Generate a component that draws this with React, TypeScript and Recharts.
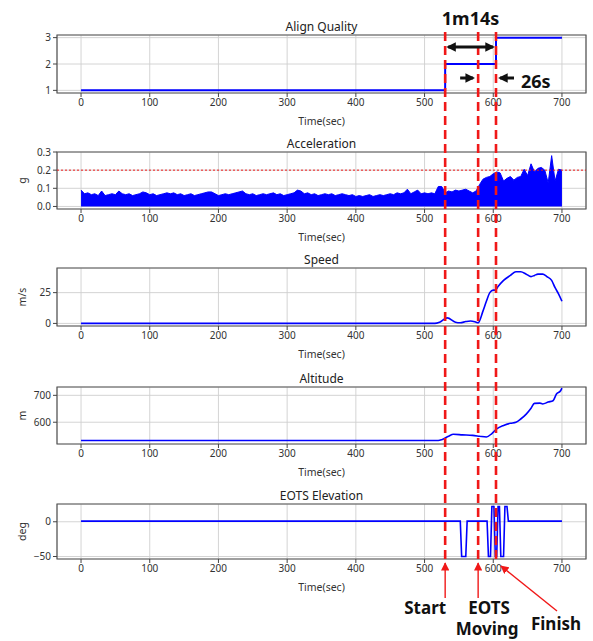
import React from 'react';
import { ComposedChart, Line, Area, XAxis, YAxis, CartesianGrid, ReferenceLine, ReferenceArea } from 'recharts';

// ---------------------------------------------------------------------------
// Flight log data (time in seconds)
// ---------------------------------------------------------------------------

const timeTicks = [0, 100, 200, 300, 400, 500, 600, 700];
const timeDomain: [number, number] = [-35, 735];

// event markers: start, EOTS moving, finish
const eventTimes = [530, 578, 604];

// Align Quality (step signal)
const alignTimes = [0, 530, 604, 700];
const alignLevels = [1, 2, 3, 3];

// Acceleration envelope, one sample every 5 s from 0 to 700
const accelStep = 5;
const accelValues = [
  0.09, 0.07, 0.075, 0.065, 0.07, 0.06, 0.085, 0.06, 0.065, 0.07,
  0.065, 0.085, 0.07, 0.065, 0.07, 0.06, 0.065, 0.07, 0.08, 0.075,
  0.065, 0.07, 0.06, 0.065, 0.07, 0.075, 0.07, 0.075, 0.065, 0.07,
  0.06, 0.065, 0.07, 0.06, 0.065, 0.07, 0.075, 0.08, 0.08, 0.07,
  0.06, 0.065, 0.07, 0.065, 0.07, 0.075, 0.08, 0.085, 0.07, 0.065,
  0.07, 0.06, 0.065, 0.07, 0.065, 0.07, 0.075, 0.065, 0.07, 0.06,
  0.065, 0.07, 0.075, 0.09, 0.085, 0.07, 0.075, 0.065, 0.07, 0.06,
  0.065, 0.07, 0.065, 0.07, 0.06, 0.065, 0.07, 0.065, 0.06, 0.065,
  0.055, 0.06, 0.055, 0.06, 0.065, 0.055, 0.06, 0.065, 0.06, 0.065,
  0.07, 0.065, 0.075, 0.07, 0.075, 0.095, 0.07, 0.08, 0.09, 0.07,
  0.075, 0.07, 0.075, 0.07, 0.11, 0.11, 0.075, 0.085, 0.08, 0.09,
  0.085, 0.09, 0.095, 0.085, 0.075, 0.085, 0.12, 0.15, 0.16, 0.165,
  0.18, 0.19, 0.185, 0.14, 0.155, 0.165, 0.145, 0.16, 0.165, 0.205,
  0.17, 0.235, 0.19, 0.21, 0.215, 0.2, 0.13, 0.28, 0.14, 0.205,
  0.2,
];
const accelLimit = 0.2;

// Speed (m/s)
const speedTimes = [0, 515, 522, 533, 545, 552, 560, 567, 575, 578, 585, 590, 595, 600, 603, 607, 615, 625, 633, 640, 648, 655, 660, 665, 672, 678, 685, 690, 695, 700];
const speedValues = [0, 0, 1, 4.5, 1, 0.5, 1.5, 2, 1, 0.5, 10, 18, 25, 27, 27, 30, 35, 39, 42, 42, 40, 38, 39, 40, 40, 38, 35, 29, 24, 18];

// Altitude (m)
const altitudeTimes = [0, 520, 525, 535, 542, 555, 570, 580, 590, 598, 605, 615, 625, 633, 640, 648, 655, 660, 668, 672, 680, 687, 692, 698, 700];
const altitudeValues = [532, 532, 535, 548, 555, 553, 551, 548, 545, 558, 575, 588, 596, 600, 612, 630, 652, 670, 671, 668, 675, 680, 705, 717, 727];

// EOTS elevation (deg)
const eotsTimes = [0, 552, 554, 560, 562, 591, 593, 596, 598, 601, 603, 605, 607, 609, 611, 615, 617, 620, 622, 700];
const eotsValues = [1, 1, -50, -50, 1, 1, -50, -50, 22, 22, -50, -50, 22, 22, -50, -50, 22, 22, 1, 1];

// ---------------------------------------------------------------------------
// Layout
// ---------------------------------------------------------------------------

const CHART_W = 593;
const CHART_H = 641;
const PLOT_L = 57;
const PLOT_R = 586;
const PAD_TOP = 10;
const X_AXIS_H = 34;
const FONT = '"Noto Sans", "DejaVu Sans", sans-serif';
const RED = '#f01818';
const BLUE = '#0000ff';

const xPix = (t: number) =>
  PLOT_L + ((t - timeDomain[0]) / (timeDomain[1] - timeDomain[0])) * (PLOT_R - PLOT_L);

const zip = (ts: number[], vs: number[]) => ts.map((t, i) => ({ t, v: vs[i] }));

const minus = (v: number) => String(v).replace('-', '\u2212');

interface PanelDef {
  title: string;
  unit?: string;
  top: number;
  bottom: number;
  domain: [number, number];
  ticks: number[];
  format?: (v: number) => string;
}

const panels: PanelDef[] = [
  { title: 'Align Quality', top: 35, bottom: 93, domain: [0.9, 3.1], ticks: [1, 2, 3] },
  { title: 'Acceleration', unit: 'g', top: 152, bottom: 209, domain: [-0.014, 0.3], ticks: [0, 0.1, 0.2, 0.3], format: (v) => v.toFixed(1) },
  { title: 'Speed', unit: 'm/s', top: 268, bottom: 326, domain: [-2.1, 45], ticks: [0, 25] },
  { title: 'Altitude', unit: 'm', top: 387, bottom: 444, domain: [519, 731], ticks: [600, 700] },
  { title: 'EOTS Elevation', unit: 'deg', top: 504, bottom: 559, domain: [-53.6, 25.6], ticks: [-50, 0], format: minus },
];

const tickStyle = { fill: '#333', fontSize: 10, fontFamily: FONT };

function Panel({ def, data, children }: { def: PanelDef; data: any[]; children: React.ReactNode }) {
  const h = def.bottom - def.top;
  return (
    <div style={{ position: 'absolute', left: 0, top: def.top - PAD_TOP }}>
      <ComposedChart
        width={CHART_W}
        height={PAD_TOP + h + X_AXIS_H}
        data={data}
        margin={{ top: PAD_TOP, right: CHART_W - PLOT_R, bottom: 0, left: 0 }}
      >
        <CartesianGrid stroke="#cfcfcf" strokeWidth={0.9} />
        <XAxis
          dataKey="t"
          type="number"
          domain={timeDomain}
          ticks={timeTicks}
          interval={0}
          allowDataOverflow
          height={X_AXIS_H}
          tick={tickStyle}
          tickSize={4}
          tickLine={{ stroke: '#444' }}
          axisLine={false}
          label={{ value: 'Time(sec)', position: 'insideBottom', offset: 2, fill: '#333', fontSize: 10.5, fontFamily: FONT }}
        />
        <YAxis
          type="number"
          domain={def.domain}
          ticks={def.ticks}
          interval={0}
          allowDataOverflow
          width={PLOT_L}
          tick={tickStyle}
          tickSize={4}
          tickLine={{ stroke: '#444' }}
          axisLine={false}
          tickFormatter={def.format}
        />
        {children}
        <ReferenceArea
          x1={timeDomain[0]}
          x2={timeDomain[1]}
          y1={def.domain[0]}
          y2={def.domain[1]}
          fill="none"
          stroke="#555"
          strokeWidth={1.2}
          ifOverflow="visible"
        />
      </ComposedChart>
    </div>
  );
}

function Annotations() {
  const [tStart, tMove, tFinish] = eventTimes;
  const xs = xPix(tStart);
  const xm = xPix(tMove);
  const xf = xPix(tFinish);
  const bold = { fontFamily: FONT, fontWeight: 700, fontSize: 18, fill: '#111' };
  const boldSmall = { ...bold, fontSize: 17 };
  return (
    <svg width={CHART_W} height={CHART_H} style={{ position: 'absolute', left: 0, top: 0, pointerEvents: 'none' }}>
      <defs>
        <marker id="blk" viewBox="0 0 10 10" refX="8" refY="5" markerWidth="3.2" markerHeight="3.2" orient="auto-start-reverse">
          <path d="M0,0 L10,5 L0,10 z" fill="#111" />
        </marker>
        <marker id="red" viewBox="0 0 10 10" refX="9" refY="5" markerWidth="6" markerHeight="6" orient="auto">
          <path d="M0,0 L10,5 L0,10 z" fill={RED} />
        </marker>
      </defs>

      {/* panel titles and y units */}
      {panels.map((p) => {
        const cy = (p.top + p.bottom) / 2;
        return (
          <g key={p.title}>
            <text x={(PLOT_L + PLOT_R) / 2} y={p.top - 9} textAnchor="middle" dominantBaseline="central" fontFamily={FONT} fontSize={12} fill="#222">
              {p.title}
            </text>
            {p.unit && (
              <text x={22} y={cy} transform={`rotate(-90 22 ${cy})`} textAnchor="middle" dominantBaseline="central" fontFamily={FONT} fontSize={10.5} fill="#333">
                {p.unit}
              </text>
            )}
          </g>
        );
      })}

      {/* event markers */}
      {eventTimes.map((t) => (
        <line key={t} x1={xPix(t)} x2={xPix(t)} y1={32} y2={561} stroke={RED} strokeWidth={2.6} strokeDasharray="9 5" />
      ))}

      {/* duration arrows */}
      <line x1={xs + 3} x2={xf - 3} y1={47} y2={47} stroke="#111" strokeWidth={3} markerStart="url(#blk)" markerEnd="url(#blk)" />
      <text x={(xs + xf) / 2} y={18} textAnchor="middle" dominantBaseline="central" {...bold}>1m14s</text>
      <line x1={xm - 18} x2={xm - 5} y1={78} y2={78} stroke="#111" strokeWidth={3} markerEnd="url(#blk)" />
      <line x1={xf + 18} x2={xf + 4} y1={78} y2={78} stroke="#111" strokeWidth={3} markerEnd="url(#blk)" />
      <text x={xf + 25} y={81} dominantBaseline="central" {...bold}>26s</text>

      {/* event labels */}
      <line x1={xs} x2={xs} y1={598} y2={563} stroke={RED} strokeWidth={1.4} markerEnd="url(#red)" />
      <line x1={xm} x2={xm} y1={598} y2={563} stroke={RED} strokeWidth={1.4} markerEnd="url(#red)" />
      <line x1={557} x2={xf + 5} y1={611} y2={566} stroke={RED} strokeWidth={1.4} markerEnd="url(#red)" />
      <text x={xs - 20} y={607} textAnchor="middle" dominantBaseline="central" {...boldSmall}>Start</text>
      <text x={xm + 11} y={607} textAnchor="middle" dominantBaseline="central" {...boldSmall}>EOTS</text>
      <text x={xm + 9} y={628} textAnchor="middle" dominantBaseline="central" {...boldSmall}>Moving</text>
      <text x={556} y={623} textAnchor="middle" dominantBaseline="central" {...boldSmall}>Finish</text>
    </svg>
  );
}

export default function App() {
  const alignData = zip(alignTimes, alignLevels);
  const accelData = accelValues.map((v, i) => ({ t: i * accelStep, v }));
  const speedData = zip(speedTimes, speedValues);
  const altitudeData = zip(altitudeTimes, altitudeValues);
  const eotsData = zip(eotsTimes, eotsValues);

  return (
    <div style={{ position: 'absolute', left: 0, top: 0, width: CHART_W, height: CHART_H, background: '#fff', overflow: 'hidden' }}>
      <Panel def={panels[0]} data={alignData}>
        <Line dataKey="v" type="stepAfter" stroke={BLUE} strokeWidth={2} dot={false} isAnimationActive={false} />
      </Panel>
      <Panel def={panels[1]} data={accelData}>
        <Area dataKey="v" type="linear" baseValue={0} stroke={BLUE} strokeWidth={1} fill={BLUE} fillOpacity={1} dot={false} isAnimationActive={false} />
        <ReferenceLine y={accelLimit} stroke={RED} strokeWidth={1} strokeDasharray="2 2" />
      </Panel>
      <Panel def={panels[2]} data={speedData}>
        <Line dataKey="v" type="monotone" stroke={BLUE} strokeWidth={1.6} dot={false} isAnimationActive={false} />
      </Panel>
      <Panel def={panels[3]} data={altitudeData}>
        <Line dataKey="v" type="monotone" stroke={BLUE} strokeWidth={1.6} dot={false} isAnimationActive={false} />
      </Panel>
      <Panel def={panels[4]} data={eotsData}>
        <Line dataKey="v" type="linear" stroke={BLUE} strokeWidth={1.6} dot={false} isAnimationActive={false} />
      </Panel>
      <Annotations />
    </div>
  );
}
